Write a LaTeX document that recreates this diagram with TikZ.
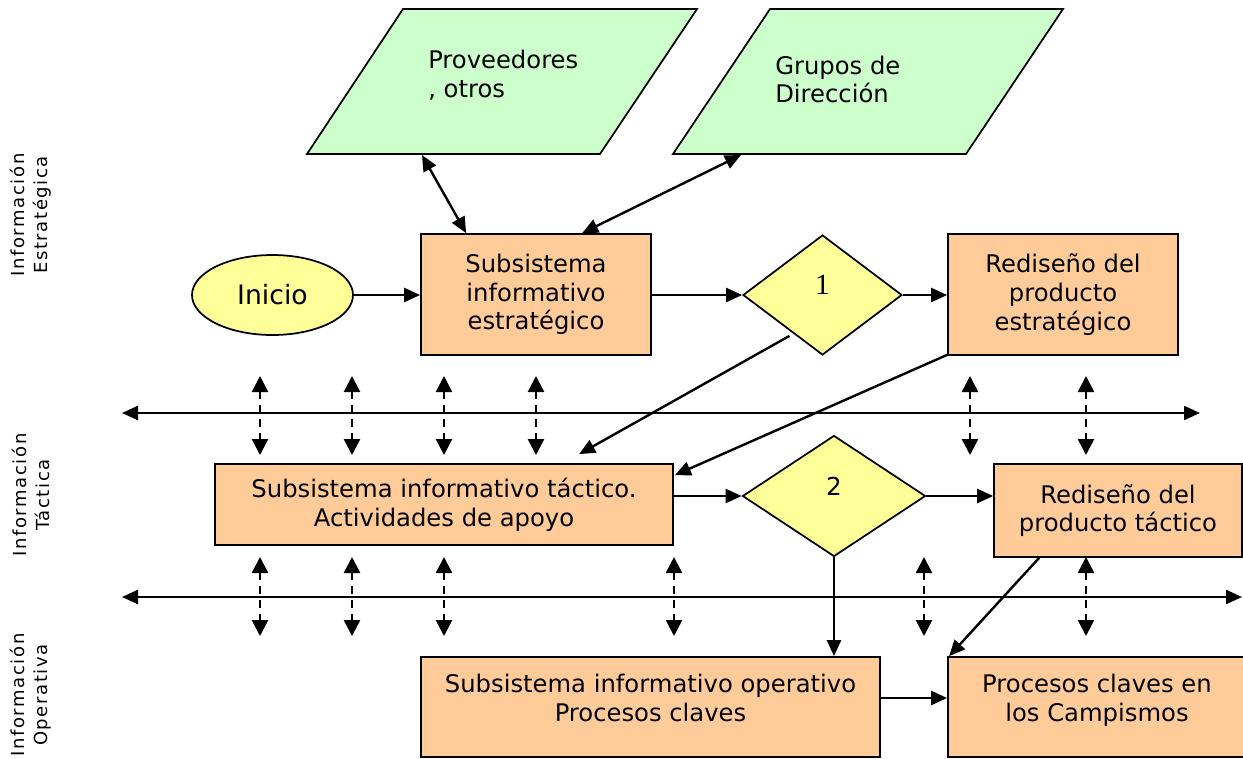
\documentclass[tikz,border=0pt]{standalone}
\usepackage{fontspec}
\setmainfont{DejaVu Sans}
\newfontfamily\numserif{Liberation Serif}
\newfontfamily\sidefont[LetterSpace=9]{DejaVu Sans}
\usetikzlibrary{shapes.geometric,arrows.meta,calc}
\definecolor{boxorange}{HTML}{FFCC99}
\definecolor{paragreen}{HTML}{CCFFCC}
\definecolor{decyellow}{HTML}{FFFF99}
\begin{document}
\begin{tikzpicture}[x=0.75pt,y=-0.75pt,
  box/.style={draw, line width=1.3pt, fill=boxorange, rectangle, align=center,
    inner sep=2pt, font=\fontsize{18.2}{21.5}\selectfont},
  decision/.style={draw, line width=1.3pt, fill=decyellow, diamond, inner sep=0pt},
  para/.style={draw, line width=1.3pt, fill=paragreen},
  paratext/.style={anchor=north west, inner sep=0pt, align=left, font=\fontsize{18.2}{21.3}\selectfont},
  side/.style={rotate=90, align=center, font=\sidefont\fontsize{13.5}{17}\selectfont},
  arr/.style={line width=1.8pt, -{Triangle[length=12pt,width=10.5pt]}},
  darr/.style={line width=1.8pt, {Triangle[length=12pt,width=10.5pt]}-{Triangle[length=12pt,width=10.5pt]}},
  dasharr/.style={line width=1.9pt, dash pattern=on 6pt off 4.5pt, {Triangle[length=12pt,width=12pt]}-{Triangle[length=12pt,width=12pt]}}
]
\useasboundingbox (0,0) rectangle (1243,758);

% side labels
\node[side] (lab1) at (31,215) {Información\\Estratégica};
\node[side] (lab2) at (31,495) {Información\\Táctica};
\node[side] (lab3) at (31,695) {Información\\Operativa};

% parallelograms
\path[para] (403,9) -- (697,9) -- (600,154) -- (307,154) -- cycle;
\node[paratext] (prov) at (428,50) {Proveedores\\, otros};
\path[para] (770,9) -- (1063,9) -- (966,154) -- (673,154) -- cycle;
\node[paratext] (grup) at (775,55.5) {Grupos de\\Dirección};
\coordinate (provbot) at (422,155);
\coordinate (grupbot) at (741,155);

% top row
\node[draw, line width=1.3pt, fill=decyellow, ellipse, inner sep=0pt,
  minimum width=120.75pt, minimum height=60pt, font=\fontsize{20}{24}\selectfont]
  (inicio) at (272.5,295) {Inicio};
\node[box, minimum width=172.5pt, minimum height=90.75pt] (estr) at (536,294.5)
  {Subsistema\\informativo\\estratégico};
\node[decision, minimum width=119.25pt, minimum height=90pt,
  font=\numserif\fontsize{22}{24}\selectfont, text depth=15pt] (d1) at (822.5,295) {1};
\node[box, minimum width=172.5pt, minimum height=90.75pt] (rede) at (1063,294.5)
  {Rediseño del\\producto\\estratégico};

% middle row
\node[box, minimum width=343.5pt, minimum height=60.75pt] (tact) at (444,504.5)
  {Subsistema informativo táctico.\\Actividades de apoyo};
\node[decision, minimum width=137.25pt, minimum height=90.75pt,
  font=\fontsize{18.5}{20}\selectfont, text depth=15pt] (d2) at (834,496) {2};
\node[box, minimum width=186pt, minimum height=69.75pt] (redt) at (1118,510.5)
  {Rediseño del\\producto táctico};

% bottom row
\node[box, minimum width=344.25pt, minimum height=75pt, text depth=14pt] (oper) at (650.5,707)
  {Subsistema informativo operativo\\Procesos claves};
\node[box, minimum width=223.5pt, minimum height=75pt, text depth=14pt] (proc) at (1097,707)
  {Procesos claves en\\los Campismos};

% connectors top
\draw[darr] (provbot) -- ($(estr.north west)+(46,0)$);
\draw[darr] (grupbot) -- ($(estr.north west)+(162,0)$);
\draw[arr] (inicio.east) -- (inicio.east -| estr.west);
\draw[arr] (estr.east |- d1.west) -- (d1.west);
\draw[arr] (d1.east) -- (d1.east -| rede.west);
\draw[arr] ($(d1.south)+(-33,-20)$) -- ($(tact.north west)+(365,-9)$);
\draw[arr] ($(rede.south west)+(0,-1)$) -- ($(tact.north east)+(1,12)$);

% connectors middle
\draw[arr] (tact.east |- d2.west) -- (d2.west);
\draw[arr] (d2.east) -- (d2.east -| redt.west);
\draw[arr] (d2.south) -- (d2.south |- oper.north);
\draw[arr] ($(redt.south west)+(46,0)$) -- ($(proc.north west)+(2,0)$);
\draw[arr] ($(oper.east)+(0,-9)$) -- ($(proc.west)+(0,-9)$);

% information buses
\coordinate (bus1l) at (122,413);
\coordinate (bus1r) at (1200,413);
\coordinate (bus2l) at (122,597);
\coordinate (bus2r) at (1242,597);
\draw[darr] (bus1l) -- (bus1r);
\draw[darr] (bus2l) -- (bus2r);

\foreach \x [count=\i] in {260,352,444,536,970,1086}{
  \coordinate (ua\i) at (\x,376);
  \coordinate (la\i) at (\x,455);
  \draw[dasharr] (ua\i) -- (la\i);
}
\foreach \x [count=\i] in {260,352,444,674,924,1086}{
  \coordinate (ub\i) at (\x,557);
  \coordinate (lb\i) at (\x,636);
  \draw[dasharr] (ub\i) -- (lb\i);
}
\end{tikzpicture}
\end{document}
